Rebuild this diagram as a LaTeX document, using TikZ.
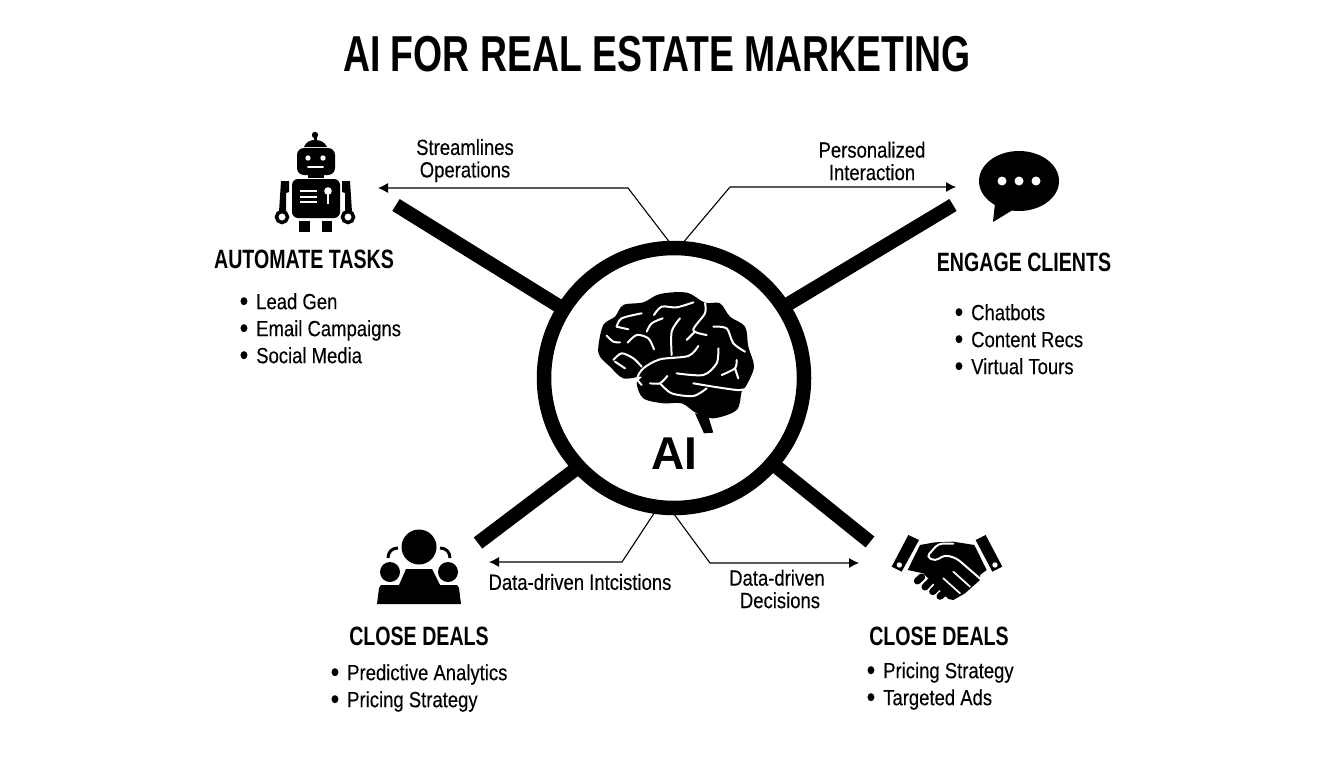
\documentclass[tikz,border=0pt]{standalone}
\usepackage{fontspec}
\setmainfont{Liberation Sans}
\newfontfamily\headfont[FakeStretch=0.74]{Liberation Sans}
\newfontfamily\bodyfont[FakeStretch=0.84,FakeBold=0.25]{Liberation Sans}
\usetikzlibrary{arrows.meta}

\newcommand{\li}{\raisebox{-1.6pt}{\fontsize{29}{27}\selectfont\textbullet}\hspace{8pt}}

\begin{document}
\begin{tikzpicture}[x=1pt,y=-1pt]
   \tikzstyle{hubring}=[circle,draw=black,line width=14.5pt,fill=white,minimum size=260pt,inner sep=0pt,outer sep=0pt]
   \tikzstyle{spoke}=[black,line width=14pt]
   \tikzstyle{link}=[black,line width=1.1pt,-{Latex[length=10pt,width=10pt]}]
   \tikzstyle{heading}=[font=\headfont\bfseries\fontsize{26.5}{30}\selectfont,inner sep=0pt]
   \tikzstyle{label}=[font=\bodyfont\fontsize{22}{22.5}\selectfont,align=center,inner sep=0pt]
   \tikzstyle{items}=[font=\bodyfont\fontsize{22}{27}\selectfont,align=left,inner sep=0pt,anchor=west]
   \tikzstyle{wline}=[white,line width=2pt,line cap=round]
   \tikzstyle{finger}=[black,line width=7pt,line cap=round]

   \useasboundingbox (0,0) rectangle (1344,768);

   \node[font=\headfont\bfseries\fontsize{50.5}{54}\selectfont,inner sep=0pt] (title) at (657,54) {AI FOR REAL ESTATE MARKETING};

   \node[hubring] (hub) at (674,378) {};
   \node[font=\bfseries\fontsize{46}{46}\selectfont,inner sep=0pt] (ai) at (674.5,453.5) {AI};

   % spokes
   \coordinate (autoend) at (396,205);
   \coordinate (engageend) at (953,205);
   \coordinate (leadsend) at (478,543);
   \coordinate (dealsend) at (870,542);
   \draw[spoke] (hub.148) -- (autoend);
   \draw[spoke] (hub.33) -- (engageend);
   \draw[spoke] (hub.223) -- (leadsend);
   \draw[spoke] (hub.319) -- (dealsend);

   % thin arrows
   \coordinate (autotip) at (378,188);
   \coordinate (engagetip) at (956,187);
   \coordinate (leadstip) at (489,562);
   \coordinate (dealstip) at (859,563);
   \draw[link] (hub.90) -- (628,188) -- (autotip);
   \draw[link] (hub.88) -- (730,187) -- (engagetip);
   \draw[link] (hub.263) -- (622,562) -- (leadstip);
   \draw[link] (hub.268) -- (710,563) -- (dealstip);

   \node[label] (streamlines) at (465,160.5) {Streamlines\\Operations};
   \node[label] (personalized) at (872,161) {Personalized\\Interaction};
   \node[label] (intcistions) at (580,582) {Data-driven Intcistions};
   \node[label] (decisions) at (777,589) {Data-driven\\\hspace{6pt}Decisions};

   \node[heading] (automate) at (304,259) {AUTOMATE TASKS};
   \node[heading] (engage) at (1024,262) {ENGAGE CLIENTS};
   \node[heading] (closeleft) at (419,636) {CLOSE DEALS};
   \node[heading] (closeright) at (939,636) {CLOSE DEALS};

   \node[items] (autolist) at (239.5,329) {\li Lead Gen\\\li Email Campaigns\\\li Social Media};
   \node[items] (engagelist) at (954.5,340) {\li Chatbots\\\li Content Recs\\\li Virtual Tours};
   \node[items] (leftlist) at (330.5,688) {\li Predictive Analytics\\\li Pricing Strategy};
   \node[items] (rightlist) at (866.5,686) {\li Pricing Strategy\\\li Targeted Ads};

   % brain
   \begin{scope}[shift={(580,270)},x=0.3333pt,y=-0.3333pt]
      \fill[black] plot[smooth cycle,tension=0.55] coordinates {(55,230) (70,165) (105,140) (130,105) (190,97) (240,72) (320,68) (375,98) (420,100) (450,140) (495,170) (505,230) (522,290) (500,345) (485,365) (470,420) (400,445) (350,430) (305,400) (250,400) (190,385) (170,340) (185,320) (130,325) (90,290) (60,260)};
      \fill[black] (345,430) -- (372,490) -- (400,488) -- (385,440) -- cycle;
      \draw[wline] plot[smooth] coordinates {(110,170) (125,145) (185,130)};
      \draw[wline] (110,170) -- (145,178);
      \draw[wline] plot[smooth] coordinates {(80,197) (100,215) (120,217)};
      \draw[wline] plot[smooth] coordinates {(143,218) (170,195) (205,205) (222,238)};
      \draw[wline] plot[smooth] coordinates {(200,185) (215,160) (248,145)};
      \draw[wline] plot[smooth] coordinates {(222,135) (245,110) (290,112) (340,97)};
      \draw[wline] plot[smooth] coordinates {(375,100) (375,130) (340,180) (380,195)};
      \draw[wline] (345,185) -- (320,210);
      \draw[wline] plot[smooth] coordinates {(300,145) (275,185) (275,255)};
      \draw[wline] plot[smooth] coordinates {(355,228) (325,258) (240,268) (190,295) (172,325) (185,345)};
      \draw[wline] plot[smooth] coordinates {(100,270) (125,250) (160,265) (185,290)};
      \draw[wline] (105,275) -- (135,295);
      \draw[wline] plot[smooth] coordinates {(400,170) (440,175) (460,220) (495,245)};
      \draw[wline] plot[smooth] coordinates {(415,235) (410,280) (370,315) (290,310)};
      \draw[wline] plot[smooth] coordinates {(425,315) (465,295) (470,270)};
      \draw[wline] (465,295) -- (475,325);
      \draw[wline] plot[smooth] coordinates {(210,340) (240,340) (262,318)};
      \draw[wline] plot[smooth] coordinates {(240,340) (275,370) (340,378) (380,355)};
      \draw[wline] plot[smooth] coordinates {(340,340) (400,350) (470,360) (490,358)};
   \end{scope}

   % robot
   \fill[black] (315,135) circle (3.2);
   \fill[black] (313.5,137) rectangle (316.5,142);
   \fill[black] (304,147) .. controls (306,142) and (310,140) .. (315,140) .. controls (320,140) and (325,142) .. (327,147) -- cycle;
   \fill[black,rounded corners=7pt] (297,148) rectangle (335,175);
   \fill[black] (308,172) rectangle (324,177.5);
   \fill[white] (308,158) circle (2.7);
   \fill[white] (323,158) circle (2.7);
   \draw[white,line width=2pt,line cap=round] (308,167) -- (323,167);
   \fill[black,rounded corners=6pt] (292,179) rectangle (340,218);
   \draw[white,line width=2pt] (300,191) -- (317,191);
   \draw[white,line width=2pt] (300,196.5) -- (317,196.5);
   \draw[white,line width=2pt] (300,202) -- (317,202);
   \fill[white] (328,191) circle (3.8);
   \fill[white] (326.8,191) rectangle (329.2,204);
   \fill[black] (281,181) -- (289,181) -- (289,192) -- (286,193) -- (286,212) -- (279,212) -- cycle;
   \fill[black] (342,181) -- (350,181) -- (352,212) -- (345,212) -- (345,193) -- (342,192) -- cycle;
   \draw[black,line width=3.5pt,fill=white] (282,217) circle (5.5);
   \draw[black,line width=3.5pt,fill=white] (348,217) circle (5.5);
   \fill[black] (299,221) rectangle (310,232);
   \fill[black] (322,221) rectangle (332,232);

   % speech bubble
   \fill[black] (1019,181) ellipse (40 and 30);
   \fill[black] (995,203) -- (993,222) -- (1016,208) -- cycle;
   \fill[white] (1002,181) circle (4.5);
   \fill[white] (1019,181) circle (4.5);
   \fill[white] (1036,181) circle (4.5);

   % people
   \fill[black] (419,547) circle (17.5);
   \fill[black] (390,572) circle (10);
   \fill[black] (448,572) circle (10);
   \draw[black,line width=3pt] (388,558) .. controls (388,552) and (392,548) .. (398,548);
   \draw[black,line width=3pt] (440,548) .. controls (446,548) and (450,552) .. (450,558);
   \fill[black] (377,604) -- (379,588) -- (381,585) -- (399,585) -- (406,569) -- (432,569) -- (440,585) -- (457,585) -- (459,588) -- (461,604) -- cycle;

   % handshake
   \begin{scope}[shift={(885,525)},x=0.3333pt,y=-0.3333pt]
      \fill[black] (20,125) -- (70,30) -- (102,45) -- (50,140) -- cycle;
      \fill[black] (272,45) -- (302,30) -- (352,125) -- (322,140) -- cycle;
      \fill[white] (43,120) circle (8);
      \fill[white] (330,120) circle (8);
      \fill[black] (105,60) -- (150,52) -- (205,50) -- (268,60) -- (305,135) -- (285,150) -- (285,165) -- (240,205) -- (205,225) -- (190,222) -- (115,145) -- (68,135) -- cycle;
      \draw[white,line width=2pt,line cap=round,rounded corners=4pt] (205,56) -- (160,56) -- (125,95) -- (150,108) -- (180,90) -- (215,100) -- (290,165);
      \draw[white,line width=1.7pt,line cap=round] (175,160) -- (225,205);
      \draw[white,line width=1.7pt,line cap=round] (205,140) -- (255,185);
      \draw[finger] (97,168) -- (110,156);
      \draw[finger] (120,186) -- (135,170);
      \draw[finger] (143,200) -- (157,186);
      \draw[finger] (165,214) -- (177,204);
   \end{scope}
\end{tikzpicture}
\end{document}
